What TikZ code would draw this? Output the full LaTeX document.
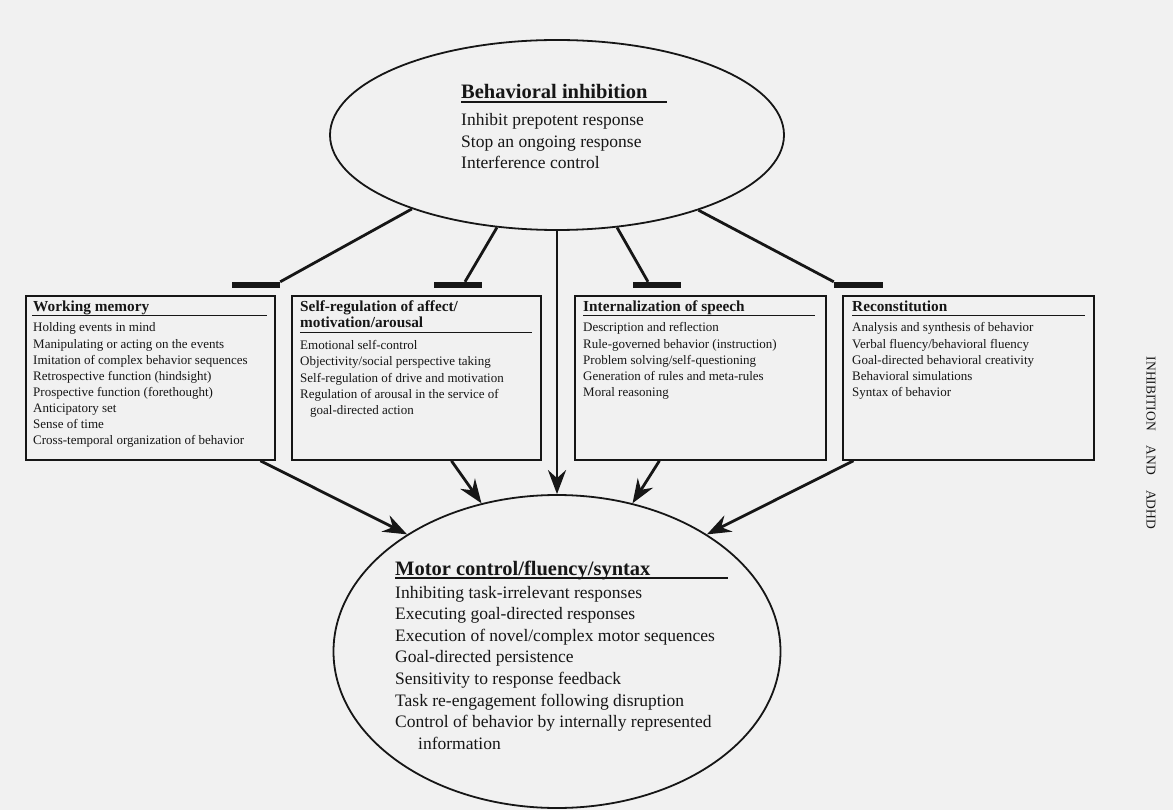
\documentclass[tikz,border=0pt]{standalone}
\usepackage{fontspec}
\setmainfont{Liberation Serif}
\usetikzlibrary{shapes.geometric,arrows.meta}
\definecolor{bg}{RGB}{241,241,241}
\definecolor{ink}{RGB}{22,22,22}
\begin{document}
\begin{tikzpicture}[x=1pt,y=-1pt,
  bodytxt/.style={font=\fontsize{13}{16}\selectfont, inner sep=0, anchor=base west, text=ink},
  boxhead/.style={font=\fontsize{15.3}{16}\selectfont\bfseries, inner sep=0, anchor=base west, text=ink},
  elltxt/.style={font=\fontsize{17.5}{21}\selectfont, inner sep=0, anchor=base west, text=ink},
  ellhead/.style={font=\fontsize{20.5}{22}\selectfont\bfseries, inner sep=0, anchor=base west, text=ink},
  rulest/.style={draw=ink, line width=1.2pt},
  boxst/.style={draw=ink, line width=1.8pt, fill=bg, inner sep=0, anchor=north west, minimum height=164},
  ellst/.style={ellipse, draw=ink, line width=1.8pt, fill=bg, inner sep=0},
  barst/.style={fill=ink, draw=none, inner sep=0, minimum height=6},
  conn/.style={draw=ink, line width=2.8pt},
  arr/.style={draw=ink, line width=2.8pt, -{Stealth[length=24pt,width=18pt,inset=8pt]}}
]
\useasboundingbox (0,0) rectangle (1173,810);
\fill[bg] (0,0) rectangle (1173,810);

% top ellipse
\node[ellst, minimum width=454, minimum height=190] (bi) at (557,135) {};
\node[ellhead] (bih) at (461,99) {Behavioral inhibition};
\draw[rulest] (461,102) -- (667,102);
\foreach \t [count=\i] in {Inhibit prepotent response,Stop an ongoing response,Interference control}
  \node[elltxt] (bil\i) at (461,{126+21.5*(\i-1)}) {\t};

% bottom ellipse
\node[ellst, minimum width=447, minimum height=313] (mc) at (557,651.5) {};
\node[ellhead] (mch) at (395,575) {Motor control/fluency/syntax};
\draw[rulest] (395,578) -- (728,578);
\foreach \t [count=\i] in {Inhibiting task-irrelevant responses,Executing goal-directed responses,Execution of novel/complex motor sequences,Goal-directed persistence,Sensitivity to response feedback,Task re-engagement following disruption,Control of behavior by internally represented}
  \node[elltxt] (mcl\i) at (395,{598+21.6*(\i-1)}) {\t};
\node[elltxt] (mcl8) at (418,749) {information};

% boxes
\node[boxst, minimum width=249] (wm) at (25,295) {};
\node[boxst, minimum width=249] (sr) at (291,295) {};
\node[boxst, minimum width=251] (is) at (574,295) {};
\node[boxst, minimum width=251] (rc) at (842,295) {};

% working memory
\node[boxhead] (wmh) at (33,312) {Working memory};
\draw[rulest] (32,315.5) -- (267,315.5);
\foreach \t [count=\i] in {Holding events in mind,Manipulating or acting on the events,Imitation of complex behavior sequences,Retrospective function (hindsight),Prospective function (forethought),Anticipatory set,Sense of time,Cross-temporal organization of behavior}
  \node[bodytxt] (wml\i) at (33,{332+16.1*(\i-1)}) {\t};

% self-regulation
\node[boxhead] (srh1) at (300,312) {Self-regulation of affect/};
\node[boxhead] (srh2) at (300,328) {motivation/arousal};
\draw[rulest] (300,332.5) -- (532,332.5);
\foreach \t [count=\i] in {Emotional self-control,Objectivity/social perspective taking,Self-regulation of drive and motivation,Regulation of arousal in the service of}
  \node[bodytxt] (srl\i) at (300,{350+16*(\i-1)}) {\t};
\node[bodytxt] (srl5) at (310,414) {goal-directed action};

% internalization
\node[boxhead] (ish) at (583,312) {Internalization of speech};
\draw[rulest] (583,315.5) -- (815,315.5);
\foreach \t [count=\i] in {Description and reflection,Rule-governed behavior (instruction),Problem solving/self-questioning,Generation of rules and meta-rules,Moral reasoning}
  \node[bodytxt] (isl\i) at (583,{332+16.1*(\i-1)}) {\t};

% reconstitution
\node[boxhead] (rch) at (852,312) {Reconstitution};
\draw[rulest] (852,315.5) -- (1085,315.5);
\foreach \t [count=\i] in {Analysis and synthesis of behavior,Verbal fluency/behavioral fluency,Goal-directed behavioral creativity,Behavioral simulations,Syntax of behavior}
  \node[bodytxt] (rcl\i) at (852,{332+16.1*(\i-1)}) {\t};

% inhibition bars
\node[barst, minimum width=48] (bar1) at (256,285) {};
\node[barst, minimum width=48] (bar2) at (458,285) {};
\node[barst, minimum width=48] (bar3) at (657,285) {};
\node[barst, minimum width=49] (bar4) at (858.5,285) {};

\draw[conn] (bi.207) -- (bar1.north east);
\draw[conn] (bi.237) -- ([xshift=7pt]bar2.north);
\draw[conn] (bi.303) -- ([xshift=-9pt]bar3.north);
\draw[conn] (bi.332) -- (bar4.north west);

% arrows to motor control
\draw[arr] (bi.south) -- (mc.north);
\draw[arr] ([xshift=110pt]wm.south) -- (mc.142);
\draw[arr] ([xshift=35pt]sr.south) -- (mc.117);
\draw[arr] ([xshift=-41pt]is.south) -- (mc.63);
\draw[arr] ([xshift=-115pt]rc.south) -- (mc.38);

% running head
\node[rotate=-90, font=\fontsize{13.5}{14}\selectfont, text=ink, inner sep=0] (side) at (1151,443) {INHIBITION\hspace{15pt}AND\hspace{15pt}ADHD};
\end{tikzpicture}
\end{document}
